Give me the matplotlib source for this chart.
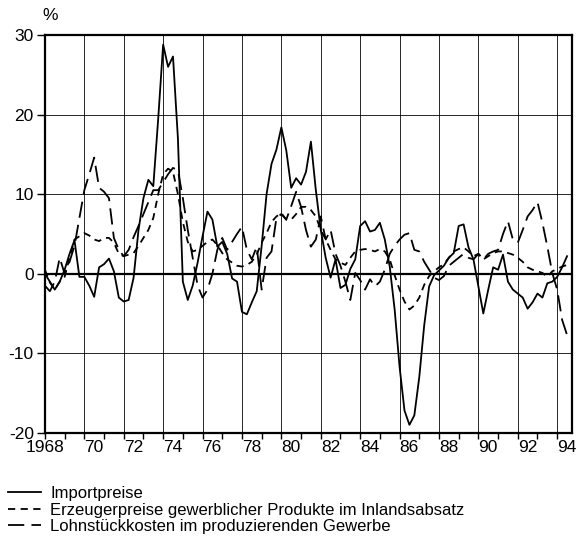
import numpy as np
import matplotlib
matplotlib.use('Agg')
import matplotlib.pyplot as plt

plt.rcParams['font.family'] = ['Liberation Sans', 'DejaVu Sans']
plt.rcParams['axes.unicode_minus'] = False

# quarterly values, 1968 Q1 .. 1994 Q3 (year-on-year change, %)
start_year = 1968
importpreise = [
    0.0, -1.0, -2.0, -1.0, 0.5, 2.5, 4.2, -0.4,            # 1968-69
    -0.4, -1.5, -2.9, 0.8, 1.2, 1.9, 0.3, -3.0,            # 1970-71
    -3.5, -3.3, -0.5, 5.5, 9.5, 11.8, 11.0, 19.5,          # 1972-73
    28.8, 26.0, 27.3, 17.0, -1.0, -3.3, -1.5, 1.4,         # 1974-75
    4.7, 7.8, 6.8, 3.4, 4.0, 2.5, -0.6, -1.0,              # 1976-77
    -4.8, -5.1, -3.6, -2.2, 3.5, 10.0, 13.8, 15.6,         # 1978-79
    18.4, 15.5, 10.8, 12.0, 11.2, 12.8, 16.6, 10.5,        # 1980-81
    5.5, 2.0, -0.5, 1.8, -1.8, -1.4, 0.6, 1.8,             # 1982-83
    6.0, 6.6, 5.3, 5.5, 6.4, 4.3, 0.9, -4.5,               # 1984-85
    -11.7, -17.2, -19.0, -17.8, -13.0, -6.5, -1.6, -0.2,   # 1986-87
    0.4, 1.0, 2.0, 2.6, 6.0, 6.2, 3.3, 1.8,                # 1988-89
    -1.6, -5.0, -2.0, 0.8, 0.5, 2.4, -1.0, -2.0,           # 1990-91
    -2.5, -3.0, -4.4, -3.6, -2.5, -3.0, -1.2, -1.0,        # 1992-93
    -0.4, 0.8, 2.2,                                        # 1994
]
erzeugerpreise = [
    0.5, -1.1, -2.0, -1.0, -0.4, 2.0, 4.3, 4.7,
    5.1, 4.8, 4.3, 4.1, 4.5, 4.5, 3.9, 2.5,
    2.2, 2.4, 2.6, 3.5, 4.5, 5.5, 7.0, 10.0,
    12.5, 13.2, 12.8, 10.0, 6.5, 4.0, 2.8, 3.0,
    3.5, 4.0, 4.3, 3.6, 2.6, 1.8, 1.4, 1.0,
    0.9, 1.1, 1.5, 2.4, 3.9, 5.1, 6.5, 7.2,
    7.6, 6.8, 6.8, 7.5, 8.4, 8.4, 8.0, 7.2,
    5.5, 4.3, 3.0, 1.8, 1.4, 1.1, 2.0, 2.8,
    3.0, 3.1, 3.0, 2.8, 3.1, 2.8, 1.8, -0.2,
    -2.0, -3.5, -4.5, -4.0, -3.0, -1.4, -0.3, 0.3,
    0.8, 1.2, 2.0, 2.8, 3.1, 3.3, 2.8, 2.2,
    2.5, 1.8, 2.2, 2.6, 2.8, 2.8, 2.6, 2.4,
    2.0, 1.5, 0.8, 0.5, 0.3, 0.1, -0.4, 0.3,
    0.6, 0.9, 1.1,
]
lohnstueckkosten = [
    -1.5, -2.2, -1.0, 2.0, 0.0, 1.5, 3.5, 7.0,
    10.5, 12.5, 14.6, 10.8, 10.3, 9.5, 4.5, 3.0,
    2.2, 3.0, 4.6, 6.0, 7.5, 9.0, 10.5, 10.5,
    11.5, 12.5, 13.3, 13.0, 9.5, 5.5, 2.0, -1.5,
    -3.0, -2.0, 0.0, 3.0, 4.5, 3.0, 4.0, 5.0,
    5.9, 3.0, 1.8, 3.4, -2.0, 2.0, 2.8, 7.0,
    7.5, 6.8, 8.5, 10.3, 8.4, 5.5, 3.4, 4.3,
    7.2, 4.3, 5.5, 2.5, 1.0, -1.0, -3.3, 0.1,
    -0.8, -2.0, -0.7, -1.6, -1.0, 0.5, 2.5, 3.5,
    4.3, 4.9, 5.1, 3.0, 2.8, 1.5, 0.5, -0.5,
    -0.8, -0.3, 1.0, 1.5, 2.0, 2.5, 2.0, 1.8,
    2.5, 1.8, 2.5, 2.8, 3.0, 5.0, 6.6, 4.3,
    3.9, 5.5, 7.2, 8.0, 9.0, 6.4, 3.4, 0.1,
    -2.0, -5.8, -7.7,
]
labels = [
    'Importpreise',
    'Erzeugerpreise gewerblicher Produkte im Inlandsabsatz',
    'Lohnstückkosten im produzierenden Gewerbe',
]
year_ticks = list(range(1968, 1995, 2))
year_labels = ['1968'] + [str(y)[2:] for y in year_ticks[1:]]

t = start_year + np.arange(len(importpreise)) / 4.0

fig = plt.figure(figsize=(5.76, 5.39), dpi=100)
ax = fig.add_axes([0.078, 0.197, 0.915, 0.738])

lw = 1.3
l1, = ax.plot(t, importpreise, color='black', lw=lw)
l2, = ax.plot(t, erzeugerpreise, color='black', lw=lw, dashes=(4, 3))
l3, = ax.plot(t, lohnstueckkosten, color='black', lw=lw, dashes=(9, 4))

ax.axhline(0, color='black', lw=1.6, zorder=1)
ax.set_xlim(1968, 1994.75)
ax.set_ylim(-20, 30)
ax.set_yticks([-20, -10, 0, 10, 20, 30])
ax.set_xticks(year_ticks)
ax.set_xticks(range(1969, 1995, 2), minor=True)
ax.set_xticklabels(year_labels)
for i, lab in enumerate(ax.get_xticklabels()):
    lab.set_ha('center' if i == 0 else 'left')
ax.grid(True, which='major', color='black', lw=0.7, alpha=0.85)
ax.tick_params(axis='both', which='both', direction='out', length=4,
               width=1.0, labelsize=12.5, pad=1)
ax.tick_params(axis='y', length=6, pad=2)
for s in ax.spines.values():
    s.set_linewidth(1.6)

fig.text(0.087, 0.972, '%', fontsize=12.5, ha='center', va='center')

fig.legend([l1, l2, l3], labels, loc='upper left',
           bbox_to_anchor=(8 / 576, 0.098), frameon=False, fontsize=12,
           handlelength=2.0, handletextpad=0.55, labelspacing=0.08,
           borderpad=0.0, borderaxespad=0.0)

fig.savefig('out.png', dpi=100)
